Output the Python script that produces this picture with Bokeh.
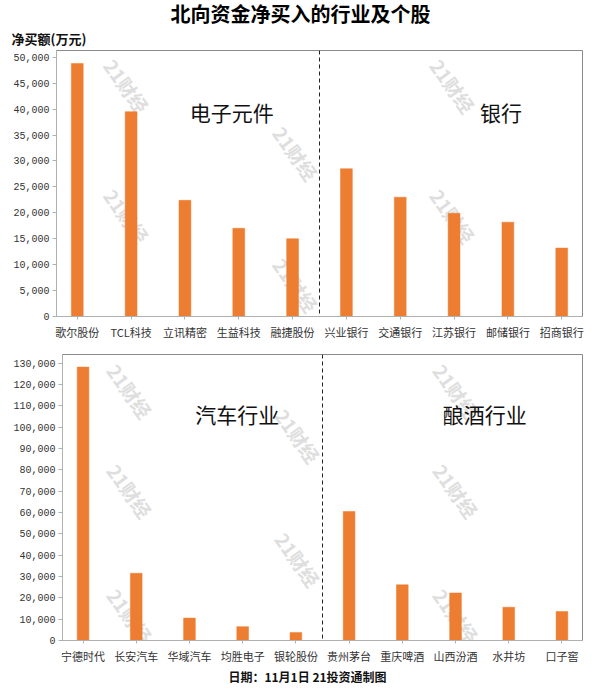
from bokeh.plotting import figure
from bokeh.layouts import column
from bokeh.models import (ColumnDataSource, FixedTicker, NumeralTickFormatter,
                          Range1d, Span, Label)
from bokeh.embed import file_html
from bokeh.resources import INLINE

# ---------------- data ----------------
title_text = "北向资金净买入的行业及个股"
unit_text = "净买额(万元)"
footer_text = "日期：11月1日 21投资通制图"
watermark_text = "21财经"

top_names = ["歌尔股份", "TCL科技", "立讯精密", "生益科技", "融捷股份",
             "兴业银行", "交通银行", "江苏银行", "邮储银行", "招商银行"]
top_values = [48800, 39500, 22400, 17000, 15000,
              28500, 23000, 19900, 18200, 13200]
top_groups = ["电子元件", "银行"]
top_ticks = [0, 5000, 10000, 15000, 20000, 25000, 30000, 35000, 40000, 45000, 50000]

bottom_names = ["宁德时代", "长安汽车", "华域汽车", "均胜电子", "银轮股份",
                "贵州茅台", "重庆啤酒", "山西汾酒", "水井坊", "口子窖"]
bottom_values = [128200, 31500, 10500, 6500, 3800,
                 60500, 26100, 22300, 15600, 13600]
bottom_groups = ["汽车行业", "酿酒行业"]
bottom_ticks = [0, 10000, 20000, 30000, 40000, 50000, 60000, 70000,
                80000, 90000, 100000, 110000, 120000, 130000]

# ---------------- style ----------------
BAR = "#ED7D31"
CJK = "Noto Sans CJK SC"
NUM = "Liberation Mono"
W = 584


def text_strip(height):
    s = figure(width=W, height=height, title_location=None,
               x_axis_location=None, y_axis_location=None,
               x_range=Range1d(0, 1), y_range=Range1d(0, 1),
               output_backend="svg", toolbar_location=None,
               min_border=0, frame_align=False)
    s.outline_line_color = None
    s.xgrid.visible = False
    s.ygrid.visible = False
    s.background_fill_color = "white"
    s.border_fill_color = "white"
    return s


def panel(names, values, groups, ticks, ymax, height, borders, group_pos, marks):
    n = len(names)
    src = ColumnDataSource(dict(x=list(range(n)), v=values, name=names))
    p = figure(width=W, height=height, title_location=None,
               x_range=Range1d(-0.386, n - 1 + 0.386),
               y_range=Range1d(0, ymax),
               output_backend="svg", toolbar_location=None, frame_align=False,
               min_border_left=borders[0], min_border_right=borders[1],
               min_border_top=borders[2], min_border_bottom=borders[3])
    p.background_fill_color = "white"
    p.border_fill_color = "white"
    p.outline_line_color = "#8a8a8a"
    p.outline_line_width = 1
    p.xgrid.visible = False
    p.ygrid.visible = False

    # watermarks (behind bars)
    for wx, wy in marks:
        p.add_layout(Label(x=wx, y=wy, text=watermark_text, angle=-0.95,
                           text_align="center", text_baseline="middle",
                           text_font=CJK, text_font_size="19px",
                           text_font_style="bold", text_color="#dedede",
                           level="underlay"))

    p.vbar(x="x", top="v", width=0.22, source=src, fill_color=BAR,
           line_color=BAR, line_width=0.5)

    half = n // 2
    p.add_layout(Span(location=half - 0.5, dimension="height",
                      line_color="#222222", line_width=1, line_dash="4 3"))

    for g, gx, gy in zip(groups, group_pos[0], group_pos[1]):
        p.add_layout(Label(x=gx, y=gy, text=g, text_align="center",
                           text_baseline="middle", text_font=CJK,
                           text_font_size="21px", text_color="#111111"))

    ya = p.yaxis[0]
    ya.ticker = FixedTicker(ticks=ticks)
    ya.formatter = NumeralTickFormatter(format="0,0")
    ya.major_label_text_font = NUM
    ya.major_label_text_font_size = "10px"
    ya.major_label_text_color = "#333333"
    ya.axis_line_color = "#b0b0b0"
    ya.major_tick_line_color = "#b0b0b0"
    ya.major_tick_out = 4
    ya.major_tick_in = 0
    ya.minor_tick_line_color = None
    ya.major_label_standoff = 3

    xa = p.xaxis[0]
    xa.ticker = FixedTicker(ticks=list(range(n)))
    xa.major_label_overrides = {i: nm for i, nm in enumerate(names)}
    xa.major_label_text_font = CJK
    xa.major_label_text_font_size = "11px"
    xa.major_label_text_color = "#333333"
    xa.major_label_text_line_height = 1.0
    xa.axis_line_color = "#b0b0b0"
    xa.major_tick_line_color = "#b0b0b0"
    xa.major_tick_out = 3
    xa.major_tick_in = 0
    xa.minor_tick_line_color = None
    xa.major_label_standoff = 4
    return p


# header strip: title and unit (screen units measured from the strip's bottom-left)
header = text_strip(48)
header.add_layout(Label(x=300, y=35, x_units="screen", y_units="screen",
                        text=title_text, text_align="center", text_baseline="middle",
                        text_font=CJK, text_font_size="20px", text_font_style="bold",
                        text_color="#000000"))
header.add_layout(Label(x=11, y=10, x_units="screen", y_units="screen",
                        text=unit_text, text_align="left", text_baseline="middle",
                        text_font=CJK, text_font_size="13px", text_font_style="bold",
                        text_color="#111111"))

top = panel(top_names, top_values, top_groups, top_ticks, 51300, 300,
            (56, 2, 2, 32), ([2.87, 7.87], [39500, 39500]),
            [(0.92, 44500), (6.98, 44500), (4.06, 31500), (0.92, 19400),
             (6.98, 19400), (4.06, 6100)])

bottom = panel(bottom_names, bottom_values, bottom_groups, bottom_ticks, 134100, 318,
               (62, 2, 6, 24), ([2.9, 7.55], [106000, 106000]),
               [(0.88, 117000), (7.01, 117000), (4.04, 96000), (0.88, 70200),
                (7.01, 70200), (4.04, 38000), (0.88, 11700), (7.01, 11700)])

footer = text_strip(18)
footer.add_layout(Label(x=307, y=8, x_units="screen", y_units="screen",
                        text=footer_text, text_align="center", text_baseline="middle",
                        text_font=CJK, text_font_size="12px", text_font_style="bold",
                        text_color="#111111"))

layout = column(header, top, bottom, footer, spacing=0)
open("out.html", "w").write(file_html(layout, INLINE))
